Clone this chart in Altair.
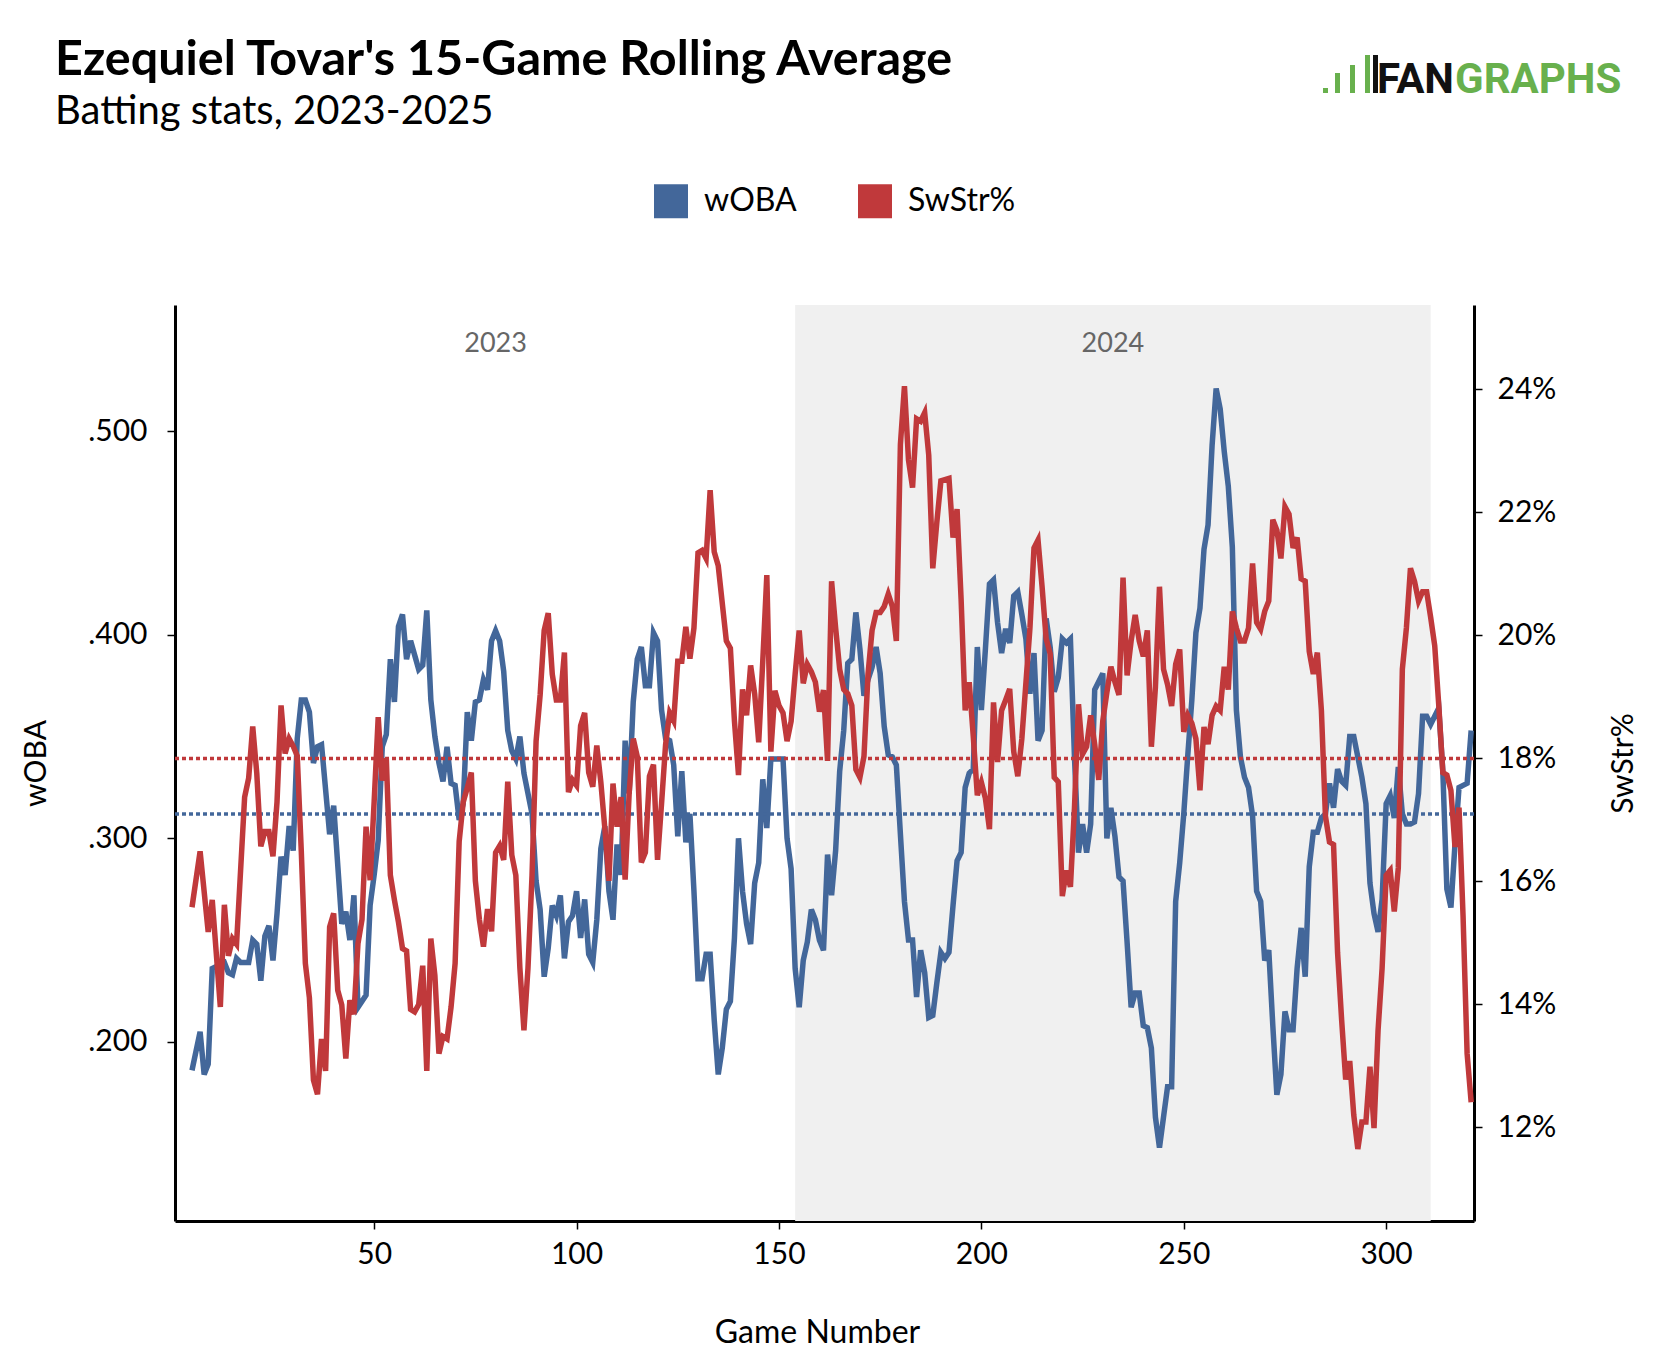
import pandas as pd
import altair as alt

BLUE = "#43679a"
RED = "#c0393b"
GREEN = "#68b04d"

# 15-game rolling wOBA (game number -> value)
woba_games = [
    5, 7, 8, 9, 10, 13, 14, 15, 16, 17, 19, 20, 21, 22, 23, 24, 25, 26, 27, 28,
    29, 30, 31, 32, 33, 34, 35, 36, 37, 39, 40, 42, 43, 44, 45, 46, 47, 48, 49, 50,
    51, 52, 53, 54, 55, 56, 57, 58, 59, 61, 62, 63, 64, 65, 66, 67, 68, 69, 70, 71,
    72, 73, 74, 75, 76, 77, 78, 79, 80, 81, 82, 83, 84, 85, 86, 87, 89, 90, 91, 92,
    93, 94, 95, 96, 97, 98, 99, 100, 101, 102, 103, 104, 105, 106, 107, 108, 109, 110, 111, 112,
    113, 114, 115, 116, 117, 118, 119, 120, 121, 122, 123, 124, 125, 126, 127, 128, 129, 130, 131, 132,
    133, 134, 135, 136, 137, 138, 139, 140, 141, 142, 143, 144, 145, 146, 147, 148, 151, 152, 153, 154,
    155, 156, 157, 158, 159, 160, 161, 162, 163, 164, 165, 166, 167, 168, 169, 170, 171, 172, 173, 174,
    175, 176, 177, 178, 179, 180, 181, 182, 183, 184, 185, 186, 187, 188, 189, 190, 191, 192, 193, 194,
    195, 196, 197, 198, 199, 200, 201, 202, 203, 204, 205, 206, 207, 208, 209, 210, 211, 212, 213, 214,
    215, 216, 217, 218, 219, 220, 221, 222, 223, 224, 225, 226, 227, 228, 230, 231, 232, 233, 234, 235,
    236, 237, 238, 239, 240, 241, 242, 243, 244, 245, 246, 247, 248, 249, 250, 251, 252, 253, 254, 255,
    256, 257, 258, 259, 260, 261, 262, 263, 264, 265, 266, 267, 268, 269, 270, 271, 272, 273, 274, 275,
    276, 277, 278, 279, 280, 281, 282, 283, 284, 285, 286, 287, 288, 289, 290, 291, 292, 294, 295, 296,
    297, 298, 299, 300, 301, 302, 303, 304, 305, 306, 307, 308, 309, 310, 311, 313, 314, 315, 316, 317,
    318, 319, 320, 321,
]
woba_values = [
    .186, .205, .184, .189, .236, .239, .234, .233, .241, .239, .239, .250, .248, .230, .252, .257, .240, .263, .291, .282,
    .306, .294, .349, .368, .368, .362, .337, .345, .346, .302, .316, .258, .264, .250, .272, .217, .220, .223, .267, .282,
    .299, .345, .351, .388, .367, .404, .410, .388, .397, .383, .385, .412, .368, .350, .337, .328, .345, .327, .326, .309,
    .317, .362, .348, .367, .368, .378, .373, .397, .402, .397, .382, .353, .343, .339, .350, .332, .312, .279, .265, .232,
    .246, .267, .262, .272, .241, .259, .262, .274, .251, .270, .243, .239, .260, .295, .306, .274, .260, .297, .282, .348,
    .322, .367, .388, .394, .375, .375, .401, .397, .363, .349, .348, .336, .301, .333, .298, .312, .274, .231, .231, .243,
    .243, .211, .184, .197, .216, .220, .251, .300, .274, .258, .248, .278, .288, .329, .305, .339, .339, .300, .285, .236,
    .217, .240, .249, .265, .260, .250, .245, .292, .272, .294, .333, .353, .386, .388, .411, .393, .370, .378, .384, .394,
    .381, .355, .341, .340, .336, .302, .269, .250, .250, .222, .245, .234, .212, .213, .229, .244, .241, .244, .267, .289,
    .293, .325, .332, .334, .394, .363, .393, .425, .427, .406, .391, .403, .396, .419, .421, .410, .398, .371, .391, .348,
    .353, .408, .394, .372, .379, .398, .396, .398, .340, .293, .307, .293, .307, .373, .381, .300, .315, .301, .281, .279,
    .249, .217, .224, .224, .208, .207, .197, .163, .148, .163, .178, .178, .269, .288, .312, .341, .368, .401, .413, .442,
    .454, .493, .521, .511, .490, .473, .443, .363, .340, .330, .325, .311, .274, .269, .240, .245, .208, .174, .184, .215,
    .206, .206, .236, .256, .232, .286, .303, .303, .310, .312, .327, .315, .334, .328, .326, .350, .350, .330, .317, .278,
    .263, .254, .270, .317, .321, .310, .335, .312, .307, .307, .308, .322, .360, .360, .356, .364, .333, .275, .266, .297,
    .325, .326, .327, .353,
]

# 15-game rolling swinging-strike rate (%)
swstr_games = [
    5, 7, 9, 10, 12, 13, 14, 15, 16, 18, 19, 20, 21, 22, 23, 24, 25, 26, 27, 28,
    29, 30, 31, 32, 33, 34, 35, 36, 37, 38, 39, 40, 41, 42, 43, 44, 45, 46, 47, 48,
    49, 50, 51, 52, 53, 54, 55, 56, 57, 58, 59, 60, 61, 62, 63, 64, 65, 66, 67, 68,
    69, 70, 71, 72, 73, 74, 75, 76, 77, 78, 79, 80, 81, 82, 83, 84, 85, 86, 87, 88,
    89, 90, 91, 92, 93, 94, 95, 96, 97, 98, 99, 100, 101, 102, 103, 104, 105, 106, 107, 108,
    109, 110, 111, 112, 113, 114, 115, 116, 117, 118, 119, 120, 121, 122, 123, 124, 125, 126, 127, 128,
    129, 130, 131, 132, 133, 134, 135, 137, 138, 139, 140, 141, 142, 143, 144, 145, 146, 147, 148, 149,
    150, 151, 152, 153, 154, 155, 156, 157, 158, 159, 160, 161, 162, 163, 164, 165, 166, 167, 168, 169,
    170, 171, 172, 173, 174, 175, 176, 177, 178, 179, 180, 181, 182, 183, 184, 185, 186, 187, 188, 189,
    190, 192, 193, 194, 195, 196, 197, 198, 199, 200, 201, 202, 203, 204, 205, 206, 207, 208, 209, 210,
    212, 213, 214, 215, 216, 217, 218, 219, 220, 221, 222, 223, 224, 225, 226, 227, 228, 229, 230, 231,
    232, 233, 234, 235, 236, 237, 238, 239, 240, 241, 242, 243, 244, 245, 246, 247, 248, 249, 250, 251,
    252, 253, 254, 255, 256, 257, 258, 259, 260, 261, 262, 263, 264, 265, 266, 267, 268, 269, 270, 271,
    272, 273, 274, 275, 276, 277, 278, 279, 280, 281, 282, 283, 284, 285, 286, 287, 288, 289, 290, 291,
    292, 293, 294, 295, 296, 297, 298, 299, 300, 301, 302, 303, 304, 305, 306, 307, 308, 309, 310, 311,
    312, 313, 314, 315, 316, 317, 318, 319, 320, 321,
]
swstr_values = [
    15.58, 16.49, 15.18, 15.70, 13.96, 15.62, 14.79, 15.07, 14.98, 17.37, 17.68, 18.52, 17.76, 16.57, 16.81, 16.81, 16.41, 17.29, 18.86, 18.08,
    18.32, 18.20, 18.04, 16.49, 14.67, 14.11, 12.77, 12.54, 13.44, 12.92, 15.26, 15.48, 14.23, 13.99, 13.12, 14.07, 13.84, 14.99, 15.38, 16.89,
    16.02, 17.30, 18.67, 17.64, 18.00, 16.10, 15.70, 15.34, 14.91, 14.87, 13.92, 13.88, 14.00, 14.63, 12.92, 15.07, 14.47, 13.20, 13.48, 13.44,
    13.96, 14.67, 16.65, 17.29, 17.52, 17.77, 16.01, 15.38, 14.94, 15.55, 15.19, 16.47, 16.58, 16.35, 17.62, 16.43, 16.10, 14.59, 13.58, 14.59,
    16.10, 18.28, 19.03, 20.08, 20.36, 19.37, 18.95, 18.95, 19.72, 17.45, 17.65, 17.56, 18.53, 18.74, 17.77, 17.54, 18.21, 17.61, 16.85, 16.01,
    17.59, 16.89, 17.37, 16.03, 17.44, 18.32, 18.03, 16.31, 16.47, 17.71, 17.90, 16.35, 17.27, 18.23, 18.74, 18.61, 19.58, 19.58, 20.14, 19.62,
    20.12, 21.34, 21.38, 21.25, 22.36, 21.36, 21.13, 19.91, 19.79, 18.61, 17.73, 19.12, 18.70, 19.51, 19.05, 18.26, 19.58, 20.98, 18.11, 19.10,
    18.86, 18.74, 18.28, 18.60, 19.37, 20.08, 19.22, 19.53, 19.41, 19.24, 18.76, 19.11, 17.96, 20.88, 20.12, 19.45, 19.12, 19.05, 18.86, 17.82,
    17.69, 18.03, 19.37, 20.08, 20.37, 20.37, 20.47, 20.67, 20.47, 19.91, 23.10, 24.05, 22.85, 22.40, 23.52, 23.48, 23.62, 22.93, 21.09, 21.84,
    22.51, 22.55, 21.59, 22.05, 20.58, 18.78, 19.24, 18.36, 17.40, 17.61, 17.35, 16.85, 18.91, 17.94, 18.78, 18.95, 19.13, 18.11, 17.71, 18.32,
    20.12, 21.42, 21.55, 20.79, 19.95, 19.70, 17.69, 17.62, 15.76, 16.18, 15.91, 17.19, 18.88, 18.07, 18.19, 18.70, 18.23, 17.65, 18.61, 19.07,
    19.49, 19.24, 19.03, 20.94, 19.35, 19.91, 20.33, 19.91, 19.66, 20.08, 18.19, 19.16, 20.79, 19.45, 19.20, 18.85, 19.53, 19.77, 18.43, 18.70,
    18.57, 18.32, 17.48, 18.51, 18.23, 18.70, 18.85, 18.78, 19.49, 19.12, 20.39, 20.12, 19.91, 19.91, 20.12, 21.17, 20.21, 20.10, 20.39, 20.56,
    21.88, 21.71, 21.25, 22.09, 21.97, 21.42, 21.59, 20.92, 20.88, 19.74, 19.37, 19.72, 18.78, 17.06, 16.64, 16.60, 14.84, 13.75, 12.78, 13.08,
    12.20, 11.65, 12.09, 12.09, 12.99, 11.99, 13.58, 14.59, 16.10, 16.18, 15.51, 16.22, 19.45, 20.12, 21.09, 20.88, 20.56, 20.71, 20.71, 20.29,
    19.83, 18.86, 17.77, 17.73, 17.48, 16.56, 17.20, 15.43, 13.20, 12.41,
]

woba_avg = 0.312
swstr_avg = 18.0

season_names = ["2023", "2024"]
season_mid = [80, 232.5]
shade_start = [154]
shade_end = [311]

TITLE = "Ezequiel Tovar's 15-Game Rolling Average"
SUBTITLE = "Batting stats, 2023-2025"

W, H = 1299, 916
X_DOMAIN = [0.8, 321.7]
WOBA_DOMAIN = [0.112, 0.562]
SWSTR_DOMAIN = [10.48, 25.37]

woba_df = pd.DataFrame({"game": woba_games, "value": woba_values, "metric": "wOBA"})
swstr_df = pd.DataFrame({"game": swstr_games, "value": swstr_values, "metric": "SwStr%"})
shade_df = pd.DataFrame({"start": shade_start, "end": shade_end})
label_df = pd.DataFrame({"season": season_names, "mid": season_mid})
dummy = pd.DataFrame({"k": [0]})

x_scale = alt.Scale(domain=X_DOMAIN, nice=False, zero=False)
x_enc = alt.X("game:Q", scale=x_scale,
              axis=alt.Axis(title="Game Number", values=[50, 100, 150, 200, 250, 300],
                            titlePadding=48, labelPadding=10, titleX=642, titleFontSize=32))

# legend squares: a small square with a thick stroke reads as a filled block
color = alt.Color("metric:N",
                  scale=alt.Scale(domain=["wOBA", "SwStr%"], range=[BLUE, RED]),
                  legend=alt.Legend(orient="none", legendX=479, legendY=-121,
                                    direction="horizontal", title=None,
                                    symbolType="square", symbolSize=289,
                                    symbolStrokeWidth=17, symbolOpacity=1,
                                    labelFontSize=32, labelFont="Lato", labelColor="#000000",
                                    labelOffset=16, columnPadding=35, padding=0))

# 2024 season shading and season labels
shade = alt.Chart(shade_df).mark_rect(color="#f0f0f0").encode(
    x=alt.X("start:Q", scale=x_scale), x2="end:Q",
    y=alt.value(0), y2=alt.value(H))

season_text = alt.Chart(label_df).mark_text(
    font="Lato", fontSize=27, color="#666666", baseline="middle").encode(
    x=alt.X("mid:Q", scale=x_scale), y=alt.value(39), text="season:N")

# wOBA on the left axis
woba_y = alt.Scale(domain=WOBA_DOMAIN, nice=False, zero=False)
woba_line = alt.Chart(woba_df).mark_line(strokeWidth=5.5).encode(
    x=x_enc,
    y=alt.Y("value:Q", scale=woba_y,
            axis=alt.Axis(title="wOBA", orient="left", values=[0.2, 0.3, 0.4, 0.5],
                          labelExpr="substring(format(datum.value, '.3f'), 1)",
                          titlePadding=36, labelPadding=20)),
    color=color)
woba_rule = alt.Chart(pd.DataFrame({"avg": [woba_avg]})).mark_rule(
    color=BLUE, strokeWidth=3.5, strokeDash=[4, 3]).encode(
    y=alt.Y("avg:Q", scale=woba_y))
woba_layer = alt.layer(woba_line, woba_rule)

# SwStr% on the right axis
swstr_y = alt.Scale(domain=SWSTR_DOMAIN, nice=False, zero=False)
swstr_line = alt.Chart(swstr_df).mark_line(strokeWidth=5.5).encode(
    x=x_enc,
    y=alt.Y("value:Q", scale=swstr_y,
            axis=alt.Axis(title="SwStr%", orient="right", values=[12, 14, 16, 18, 20, 22, 24],
                          labelExpr="datum.value + '%'", titleAngle=270,
                          titlePadding=83, labelPadding=15)),
    color=color)
swstr_rule = alt.Chart(pd.DataFrame({"avg": [swstr_avg]})).mark_rule(
    color=RED, strokeWidth=3.5, strokeDash=[4, 3]).encode(
    y=alt.Y("avg:Q", scale=swstr_y))
swstr_layer = alt.layer(swstr_line, swstr_rule)

# title block as text marks above the plot
title_text = alt.Chart(dummy).mark_text(
    text=TITLE, font="Lato", fontSize=48.5, fontWeight="bold", color="#000000",
    align="left", baseline="alphabetic").encode(x=alt.value(-120), y=alt.value(-230))
subtitle_text = alt.Chart(dummy).mark_text(
    text=SUBTITLE, font="Lato", fontSize=40, color="#000000",
    align="left", baseline="alphabetic").encode(x=alt.value(-120), y=alt.value(-181))

# FanGraphs logo (decoration)
def logo_rect(x1, x2, y1, y2, c):
    return alt.Chart(dummy).mark_rect(color=c).encode(
        x=alt.value(x1), x2=alt.value(x2), y=alt.value(y1), y2=alt.value(y2))

logo = alt.layer(
    logo_rect(1148, 1153, -217, -212, GREEN),
    logo_rect(1160, 1165, -232, -212, GREEN),
    logo_rect(1175, 1180, -240, -212, GREEN),
    logo_rect(1190, 1195, -250, -212, GREEN),
    logo_rect(1198, 1203, -250, -212, "#111111"),
    alt.Chart(dummy).mark_text(text="FAN", font="Roboto", fontWeight="bold", fontSize=42,
                               align="right", baseline="alphabetic",
                               color="#111111").encode(x=alt.value(1279), y=alt.value(-212)),
    alt.Chart(dummy).mark_text(text="GRAPHS", font="Roboto", fontWeight="bold", fontSize=42,
                               align="left", baseline="alphabetic",
                               color=GREEN).encode(x=alt.value(1280), y=alt.value(-212)),
)

chart = alt.layer(shade, season_text, woba_layer, swstr_layer,
                  title_text, subtitle_text, logo).resolve_scale(
    y="independent"
).properties(
    width=W, height=H,
    autosize=alt.AutoSizeParams(type="none"),
    padding={"left": 167, "top": 297, "right": 180, "bottom": 141},
).configure_view(stroke=None).configure_axis(
    grid=False, domainColor="#000000", domainWidth=3, tickColor="#000000",
    tickWidth=1.5, tickSize=8, labelFont="Lato", labelFontSize=30, labelColor="#000000",
    titleFont="Lato", titleFontSize=30, titleFontWeight="normal", titleColor="#000000",
)

chart.save("out.html", embed_options={"renderer": "svg", "actions": False})
